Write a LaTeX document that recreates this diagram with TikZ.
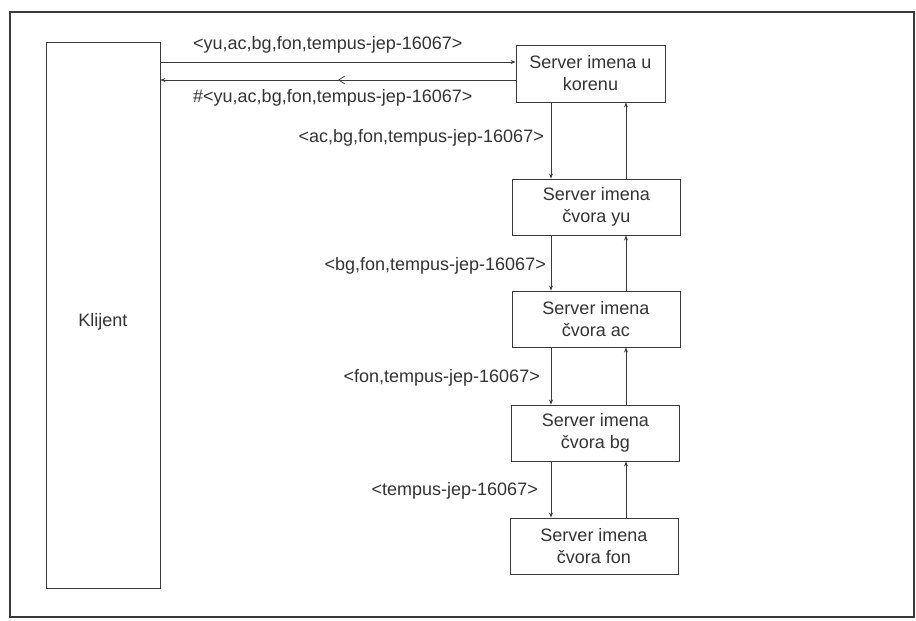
\documentclass[tikz,border=0pt]{standalone}
\usepackage{fontspec}
\setmainfont{Liberation Sans}
\usetikzlibrary{arrows.meta,decorations.markings}
\definecolor{ink}{HTML}{3A3A3A}
\definecolor{txt}{HTML}{333333}
\begin{document}
\begin{tikzpicture}[x=1pt,y=-1pt,
  every node/.style={text=txt,font=\fontsize{18}{22}\selectfont},
  srv/.style={draw=ink,line width=0.9pt,minimum width=168pt,minimum height=56pt,align=center,inner sep=0pt},
  arr/.style={draw=ink,line width=0.8pt,-{Stealth[length=5pt,width=4pt]}},
  lbl/.style={inner sep=0pt},
  midbarb/.style={postaction={decorate},decoration={markings,mark=at position 0.5 with {\arrow{Straight Barb[length=6pt,width=8pt,line width=0.8pt]}}}}
]
\useasboundingbox (0,0) rectangle (916,621);
\draw[ink,line width=1.1pt] (10,12) rectangle (914,617);

\node[draw=ink,line width=0.9pt,minimum width=114pt,minimum height=546pt,inner sep=0pt] (client) at (103,315) {};
\node[lbl] (klijent) at (103,322) {Klijent};

\node[srv,minimum width=149pt,minimum height=57pt] (root) at (590.5,73.5) {Server imena u\\korenu};
\node[srv] (yu) at (596.5,207) {Server imena\\čvora yu};
\node[srv] (ac) at (596,319) {Server imena\\čvora ac};
\node[srv] (bg) at (595.5,433) {Server imena\\čvora bg};
\node[srv] (fon) at (594,546) {Server imena\\čvora fon};

\coordinate (r1) at (0,62);
\coordinate (r2) at (0,80);
\coordinate (dcol) at (551,0);
\coordinate (ucol) at (626,0);

\draw[arr] (client.east |- r1) -- (root.west |- r1);
\draw[arr,midbarb] (root.west |- r2) -- (client.east |- r2);

\node[lbl,anchor=west] (m1) at (193,45) {<yu,ac,bg,fon,tempus-jep-16067>};
\node[lbl,anchor=west] (m2) at (193,98) {\#<yu,ac,bg,fon,tempus-jep-16067>};

\draw[arr] (root.south -| dcol) -- (yu.north -| dcol);
\draw[arr] (yu.north -| ucol) -- (root.south -| ucol);
\draw[arr] (yu.south -| dcol) -- (ac.north -| dcol);
\draw[arr] (ac.north -| ucol) -- (yu.south -| ucol);
\draw[arr] (ac.south -| dcol) -- (bg.north -| dcol);
\draw[arr] (bg.north -| ucol) -- (ac.south -| ucol);
\draw[arr] (bg.south -| dcol) -- (fon.north -| dcol);
\draw[arr] (fon.north -| ucol) -- (bg.south -| ucol);

\node[lbl,anchor=east] (m3) at (544,138) {<ac,bg,fon,tempus-jep-16067>};
\node[lbl,anchor=east] (m4) at (546,266) {<bg,fon,tempus-jep-16067>};
\node[lbl,anchor=east] (m5) at (540,378) {<fon,tempus-jep-16067>};
\node[lbl,anchor=east] (m6) at (538,491) {<tempus-jep-16067>};
\end{tikzpicture}
\end{document}
